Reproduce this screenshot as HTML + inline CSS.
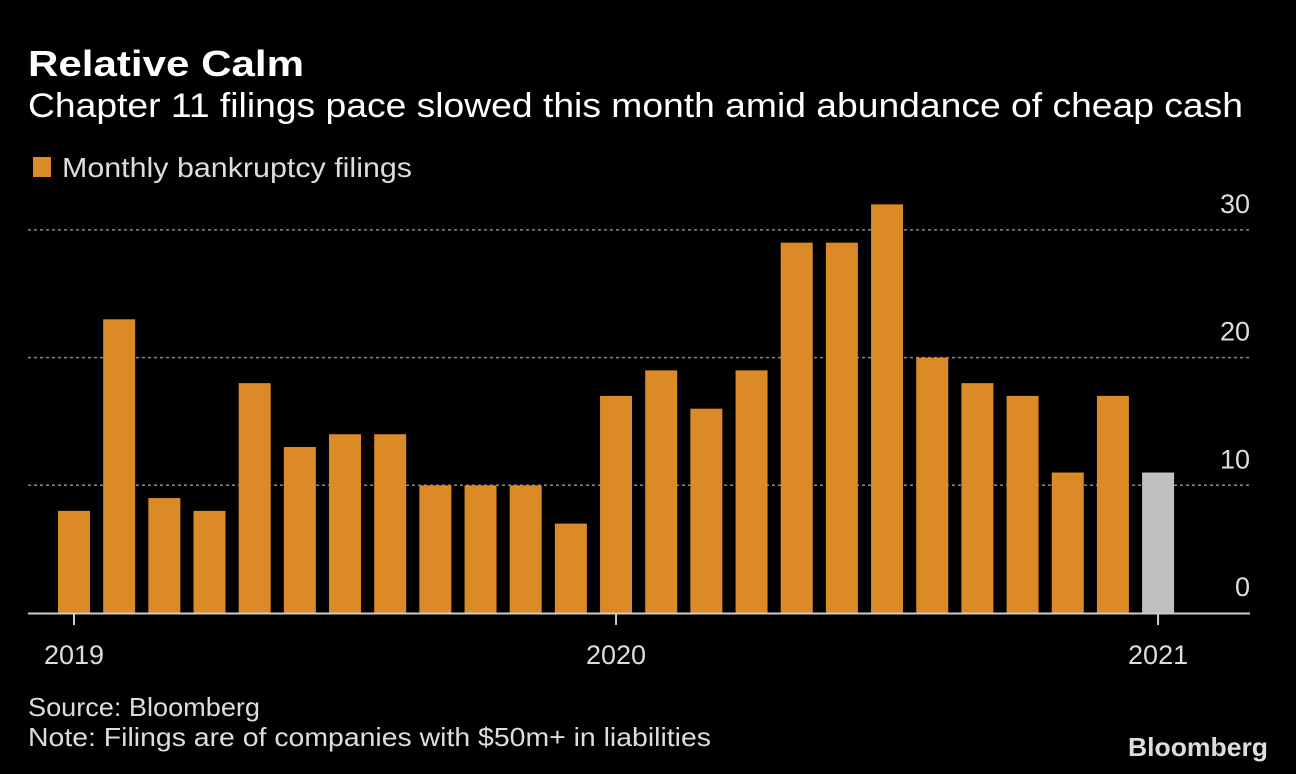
<!DOCTYPE html>
<html><head><meta charset="utf-8"><style>
html,body{margin:0;padding:0;background:#000;}
svg{display:block;font-family:"Liberation Sans",sans-serif;}
</style></head><body>
<svg id="chart" width="1296" height="774" viewBox="0 0 1296 774">
<rect width="1296" height="774" fill="#000"/>
<text x="28" y="76" fill="#fff" font-size="36" font-weight="bold" textLength="276" lengthAdjust="spacingAndGlyphs">Relative Calm</text>
<text x="28" y="117" fill="#fff" font-size="34" textLength="1215" lengthAdjust="spacingAndGlyphs">Chapter 11 filings pace slowed this month amid abundance of cheap cash</text>
<rect x="33" y="157" width="18" height="20" fill="#dc8a26"/>
<text x="62" y="177" fill="#ddd" font-size="28" textLength="350" lengthAdjust="spacingAndGlyphs">Monthly bankruptcy filings</text>
<g id="grid"></g>
<g id="bars"></g>
<line x1="28" y1="613.5" x2="1250" y2="613.5" stroke="#ccc" stroke-width="2"/>
<g id="xaxis"></g>
<text x="28" y="716" fill="#ddd" font-size="26" textLength="232" lengthAdjust="spacingAndGlyphs">Source: Bloomberg</text>
<text x="28" y="746" fill="#ddd" font-size="26" textLength="683" lengthAdjust="spacingAndGlyphs">Note: Filings are of companies with $50m+ in liabilities</text>
<text x="1268" y="756" fill="#ddd" font-size="26" font-weight="bold" text-anchor="end" textLength="140" lengthAdjust="spacingAndGlyphs">Bloomberg</text>
</svg>
<script>
const values = [8,23,9,8,18,13,14,14,10,10,10,7,17,19,16,19,29,29,32,20,18,17,11,17,11];
const highlight = [0,0,0,0,0,0,0,0,0,0,0,0,0,0,0,0,0,0,0,0,0,0,0,0,1];
const yTicks = [0,10,20,30];
const yearLabels = ["2019","2020","2021"];
const yearIndex = [0,12,24];

const NS = "http://www.w3.org/2000/svg";
function y(v){ return 613 - v*12.77; }
function xc(i){ return 74 + i*45.17; }
function mk(tag, attrs, parent){ const e=document.createElementNS(NS,tag); for(const k in attrs) e.setAttribute(k,attrs[k]); parent.appendChild(e); return e; }
const grid=document.getElementById('grid'), bars=document.getElementById('bars'), xa=document.getElementById('xaxis');
yTicks.forEach(t=>{
  if(t>0){
    const l=mk('line',{x1:28,x2:1250,y1:y(t),y2:y(t),stroke:'#888','stroke-width':1.5,'stroke-dasharray':'3,3'},grid);
    
    
  }
  const tx=mk('text',{x:1250,y:y(t)-17,fill:'#ddd','font-size':27,'text-anchor':'end'},grid);
  tx.textContent=t;
  
  
});
values.forEach((v,i)=>{
  const r=mk('rect',{x:xc(i)-16,y:y(v),width:32,height:613-y(v),fill:highlight[i]?'#c0c0c0':'#dc8a26'},bars);
  
  
});
yearIndex.forEach((idx,k)=>{
  const l=mk('line',{x1:xc(idx),x2:xc(idx),y1:614,y2:625,stroke:'#ccc','stroke-width':2},xa);
  
  
  const t=mk('text',{x:xc(idx),y:664,fill:'#ddd','font-size':27,'text-anchor':'middle'},xa);
  t.textContent=yearLabels[k];
  
  
});
</script>
</body></html>
